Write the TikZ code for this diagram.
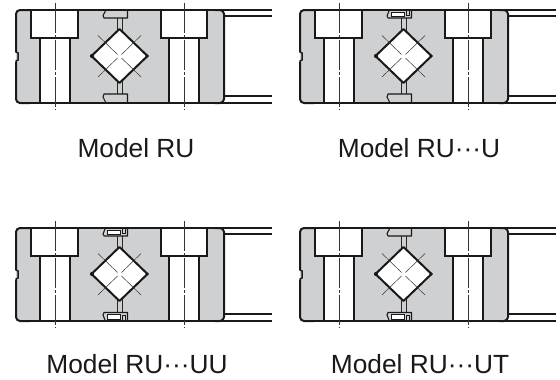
\documentclass[tikz,border=0pt]{standalone}
\usepackage{fontspec}
\setmainfont{Liberation Sans}
\definecolor{bodygray}{HTML}{CFD0D2}
\tikzset{
  x=1pt,y=-1pt,
  heavy/.style={line width=2pt,black!90},
  medium/.style={line width=1.5pt,black!90},
  centerline/.style={line width=0.5pt,black!80,dash pattern=on 30pt off 2pt on 3pt off 2pt},
  thinline/.style={line width=0.5pt,black!80},
  caption/.style={anchor=base,font=\fontsize{26.3}{26.3}\selectfont,text=black!90,inner sep=0pt},
  sealgray/.style={fill=bodygray,draw=black!90,line width=1.1pt,line join=round}
}
\newcommand{\plainTop}{%
  \draw[sealgray] (106,10) -- (103,15.5) -- (104,18) -- (127.5,18) -- (127.5,10);}
\newcommand{\plainBot}{%
  \draw[sealgray] (127.5,103) -- (127.5,94) -- (104,94) -- (103,97) -- (106,103);}
\newcommand{\caseTop}{%
  \draw[sealgray] (105,11) -- (103,16) -- (104,18) -- (127.5,18) -- (127.5,11);
  \fill[white] (107.5,12) rectangle (120.5,16.4);
  \draw[line width=0.9pt,black!90] (107.5,12) rectangle (120.5,16.4);
  \draw[line width=0.9pt,black!90] (122.5,11) -- (122.5,15) -- (125,15) -- (125,11);}
\newcommand{\caseBot}{%
  \draw[sealgray] (105,102) -- (103,97) -- (104,94.5) -- (127.5,94.5) -- (127.5,102);
  \fill[white] (107.5,96.5) rectangle (120.5,101);
  \draw[line width=0.9pt,black!90] (107.5,96.5) rectangle (120.5,101);
  \draw[line width=0.9pt,black!90] (122.5,102) -- (122.5,97.5) -- (125,97.5) -- (125,102);}
\newcommand{\bearing}[4]{%
\begin{scope}[shift={(#1,#2)}]
  % body
  \fill[bodygray,rounded corners=4pt] (16,10) -- (224,10) -- (224,103) -- (16,103) -- cycle;
  % strut
  \draw[line width=1pt,black!85] (117,16) -- (117,96) (122.3,16) -- (122.3,96);
  % seals
  #3 #4
  % counterbored holes
  \fill[white] (31,10) rectangle (78,38) (40,38) rectangle (70,103);
  \fill[white] (161,10) rectangle (207,38) (169,38) rectangle (199,103);
  \draw[heavy] (31,10) -- (31,38) -- (78,38) -- (78,10);
  \draw[heavy] (40,38) -- (40,103) (70,38) -- (70,103);
  \draw[heavy] (161,10) -- (161,38) -- (207,38) -- (207,10);
  \draw[heavy] (169,38) -- (169,103) (199,38) -- (199,103);
  % outer outline
  \draw[heavy,rounded corners=4pt] (30,10) -- (16,10) -- (16,52);
  \draw[medium] (16,50) -- (16,52) -- (18,53) -- (18,60) -- (16,61) -- (16,64);
  \draw[heavy,rounded corners=4pt] (16,62) -- (16,103) -- (30,103);
  \draw[heavy] (29,10) -- (272,10) (29,103) -- (272,103);
  \draw[heavy,rounded corners=4pt] (215,10) -- (224,10) -- (224,103) -- (215,103);
  \draw[medium] (224,16) -- (272,16) (224,96) -- (272,96);
  % diamond
  \fill[white] (91.5,56) -- (119.5,29) -- (147.5,56) -- (119.5,83) -- cycle;
  \draw[heavy,line join=round] (91.5,56) -- (119.5,29) -- (147.5,56) -- (119.5,83) -- cycle;
  \fill[black!90] (92,56) circle (2.1) (147,56) circle (1.8);
  % roller axes
  \draw[thinline] (98,35.5) -- (117.5,54.5) (121.5,58) -- (141,77);
  \draw[thinline] (141,35.5) -- (121.5,54.5) (117.5,58) -- (98,77);
  % centre lines
  \draw[centerline] (55,3) -- (55,110);
  \draw[centerline] (184,3) -- (184,110);
\end{scope}}
\begin{document}
\begin{tikzpicture}
  \useasboundingbox (0,0) rectangle (560,380);
  \fill[white] (0,0) rectangle (560,380);
  \bearing{0}{0}{\plainTop}{\plainBot}
  \bearing{284}{0}{\caseTop}{\plainBot}
  \bearing{0}{218}{\caseTop}{\caseBot}
  \bearing{284}{218}{\plainTop}{\caseBot}
  \node[caption] (capA) at (136,157) {Model RU};
  \node[caption] (capB) at (419,157) {Model RU···U};
  \node[caption] (capC) at (137,373) {Model RU···UU};
  \node[caption] (capD) at (420,373) {Model RU···UT};
\end{tikzpicture}
\end{document}
